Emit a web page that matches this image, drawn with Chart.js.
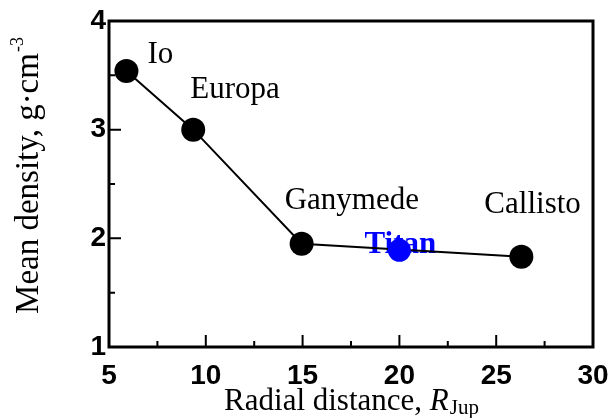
<!DOCTYPE html>
<html lang="en">
<head>
    <meta charset="UTF-8">
    <script src="https://cdn.jsdelivr.net/npm/chart.js@4.4.1/dist/chart.umd.min.js"></script>
    <title>Mean density vs radial distance</title>
    <style>
        body { margin: 0; background: #fff; }
        #wrap { width: 610px; height: 418px; }
    </style>
</head>
<body>
    <div id="wrap"><canvas id="myChart"></canvas></div>
    <script>

        var moonNames = ['Io', 'Europa', 'Ganymede', 'Callisto'];
        var moonDistance = [5.9, 9.35, 14.95, 26.3];
        var moonDensity = [3.54, 3.0, 1.95, 1.83];
        var titanName = 'Titan';
        var titanDistance = [20.0];
        var titanDensity = [1.89];
        var xTicks = [5, 10, 15, 20, 25, 30];
        var yTicks = [1, 2, 3, 4];

        // label offsets from each point, in px
        var labelOffsets = { Io: [21, -8], Europa: [-3, -32], Ganymede: [-17, -35], Callisto: [-37, -44] };

        var serif = '"Liberation Serif", "Times New Roman", serif';
        var sans = '"Liberation Sans", Arial, sans-serif';

        var framePlugin = {
            id: 'framePlugin',
            beforeDatasetsDraw(chart) {
                var ctx = chart.ctx, xs = chart.scales.x, ys = chart.scales.y;
                ctx.save();
                ctx.font = '31px ' + serif;
                ctx.fillStyle = '#000';
                ctx.textAlign = 'left';
                ctx.textBaseline = 'alphabetic';
                moonNames.forEach(function (n, i) {
                    var o = labelOffsets[n];
                    ctx.fillText(n, xs.getPixelForValue(moonDistance[i]) + o[0], ys.getPixelForValue(moonDensity[i]) + o[1]);
                });
                ctx.font = 'bold 31px ' + serif;
                ctx.fillStyle = '#0000ff';
                ctx.textAlign = 'center';
                ctx.fillText(titanName, xs.getPixelForValue(titanDistance[0]) + 1, ys.getPixelForValue(titanDensity[0]) + 3);
                ctx.restore();
            },
            afterDraw(chart) {
                var ctx = chart.ctx, a = chart.chartArea, xs = chart.scales.x, ys = chart.scales.y;
                ctx.save();
                ctx.strokeStyle = '#000';
                ctx.lineWidth = 3;
                ctx.strokeRect(a.left, a.top, a.right - a.left, a.bottom - a.top);

                // inward ticks
                ctx.lineWidth = 2;
                ctx.beginPath();
                xs.ticks.forEach(function (t) {
                    var px = xs.getPixelForValue(t.value);
                    if (px <= a.left + 1 || px >= a.right - 1) return;
                    var len = xTicks.indexOf(t.value) >= 0 ? 12 : 6;
                    ctx.moveTo(px, a.bottom);
                    ctx.lineTo(px, a.bottom - len);
                });
                ys.ticks.forEach(function (t) {
                    var py = ys.getPixelForValue(t.value);
                    if (py <= a.top + 1 || py >= a.bottom - 1) return;
                    var len = yTicks.indexOf(t.value) >= 0 ? 12 : 6;
                    ctx.moveTo(a.left, py);
                    ctx.lineTo(a.left + len, py);
                });
                ctx.stroke();

                // x title
                ctx.fillStyle = '#000';
                ctx.textBaseline = 'alphabetic';
                ctx.textAlign = 'left';
                var t1 = 'Radial distance, ', t2 = 'R', t3 = 'Jup';
                ctx.font = '31px ' + serif; var w1 = ctx.measureText(t1).width;
                ctx.font = 'italic 31px ' + serif; var w2 = ctx.measureText(t2).width;
                ctx.font = '21px ' + serif; var w3 = ctx.measureText(t3).width;
                var x0 = (a.left + a.right) / 2 - (w1 + w2 + w3) / 2, base = 410;
                ctx.font = '31px ' + serif; ctx.fillText(t1, x0, base);
                ctx.font = 'italic 31px ' + serif; ctx.fillText(t2, x0 + w1, base);
                ctx.font = '21px ' + serif; ctx.fillText(t3, x0 + w1 + w2 + 1, base + 4);

                // y title
                ctx.translate(38, 176);
                ctx.rotate(-Math.PI / 2);
                var s1 = 'Mean density, g\u00b7cm', s2 = '-3';
                ctx.font = '33px ' + serif; var v1 = ctx.measureText(s1).width;
                ctx.font = '18px ' + serif; var v2 = ctx.measureText(s2).width;
                var y0 = -(v1 + v2) / 2;
                ctx.font = '33px ' + serif; ctx.fillText(s1, y0, 0);
                ctx.font = '18px ' + serif; ctx.fillText(s2, y0 + v1 + 1, -15);
                ctx.restore();
            }
        };

        var ctx = document.getElementById('myChart').getContext('2d');
        var myChart = new Chart(ctx, {
            type: 'scatter',
            data: {
                datasets: [{
                    label: 'Galilean moons',
                    data: moonDistance.map(function (d, i) { return { x: d, y: moonDensity[i] }; }),
                    showLine: true,
                    borderColor: '#000',
                    borderWidth: 2,
                    backgroundColor: '#000',
                    pointBackgroundColor: '#000',
                    pointBorderWidth: 0,
                    pointRadius: 12,
                    order: 1
                }, {
                    label: titanName,
                    data: titanDistance.map(function (d, i) { return { x: d, y: titanDensity[i] }; }),
                    showLine: false,
                    backgroundColor: '#0000ff',
                    pointBackgroundColor: '#0000ff',
                    pointBorderWidth: 0,
                    pointRadius: 11.5,
                    order: 0
                }]
            },
            options: {
                responsive: true,
                maintainAspectRatio: false,
                animation: { duration: 0 },
                layout: { padding: { left: 0, top: 21, right: 17, bottom: 0 } },
                plugins: {
                    legend: { display: false },
                    tooltip: { enabled: false }
                },
                scales: {
                    x: {
                        type: 'linear',
                        min: 5,
                        max: 30,
                        afterFit: function (s) { s.height = 71; s.paddingLeft = 0; s.paddingRight = 0; },
                        border: { display: false },
                        grid: { display: false, drawTicks: false },
                        ticks: {
                            stepSize: 2.5,
                            autoSkip: false,
                            maxRotation: 0,
                            padding: 12,
                            color: '#000',
                            font: { family: sans, size: 28, weight: 'bold' },
                            callback: function (v) { return xTicks.indexOf(v) >= 0 ? String(v) : ''; }
                        }
                    },
                    y: {
                        type: 'linear',
                        min: 1,
                        max: 4,
                        afterFit: function (s) { s.width = 109; s.paddingTop = 0; s.paddingBottom = 0; },
                        border: { display: false },
                        grid: { display: false, drawTicks: false },
                        ticks: {
                            stepSize: 0.5,
                            autoSkip: false,
                            padding: 3,
                            color: '#000',
                            font: { family: sans, size: 28, weight: 'bold' },
                            callback: function (v) { return yTicks.indexOf(v) >= 0 ? String(v) : ''; }
                        }
                    }
                }
            },
            plugins: [framePlugin]
        });
    </script>

</body>
</html>
